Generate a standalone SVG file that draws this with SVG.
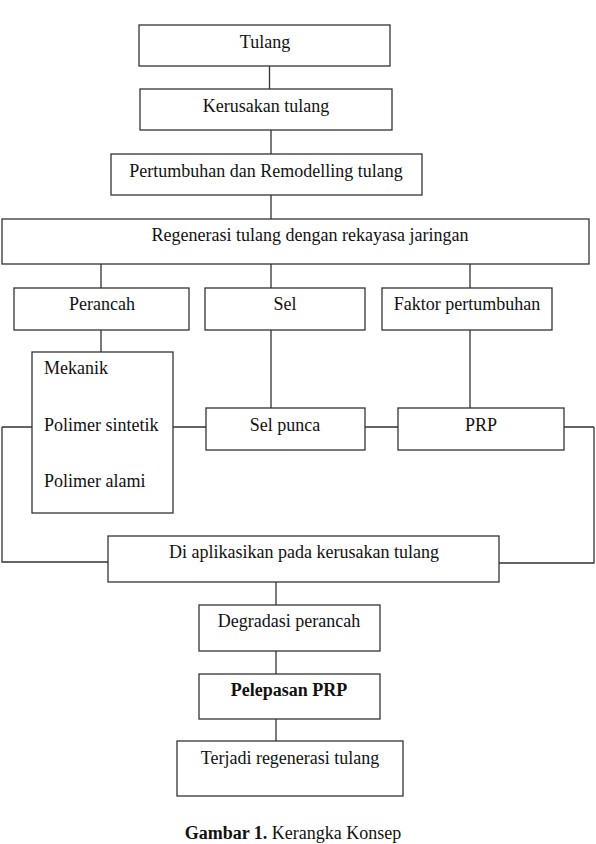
<svg xmlns="http://www.w3.org/2000/svg" width="596" height="844" viewBox="0 0 596 844">
<style>
.b{fill:#fff;stroke:#333;stroke-width:1.3}
.t{font-family:"Liberation Serif","Times New Roman",serif;font-size:18px;fill:#111;text-anchor:middle}
.l{text-anchor:start}
.c{fill:none;stroke:#333;stroke-width:1.3}
</style>
<rect width="596" height="844" fill="#fff"/>
<g id="connectors">
<path class="c" d="M269.5 66V89M271 130V154M271 195V219M101 264V288M271 264V288M470 264V288M101 330V352M271 330V408M470 330V408M2 427H32M173 427H206M365 427H398M564 427H594M2 427V562H108M594 427V563H499M276 582V605M276 651V674M276 719V741"/>
</g>
<g id="n1"><rect class="b" x="139" y="25" width="251" height="41"/><text class="t" x="265" y="48">Tulang</text></g>
<g id="n2"><rect class="b" x="140" y="89" width="252" height="41"/><text class="t" x="266" y="112">Kerusakan tulang</text></g>
<g id="n3"><rect class="b" x="111" y="154" width="311" height="41"/><text class="t" x="266" y="177">Pertumbuhan dan Remodelling tulang</text></g>
<g id="n4"><rect class="b" x="2" y="219" width="587" height="45"/><text class="t" x="310" y="241">Regenerasi tulang dengan rekayasa jaringan</text></g>
<g id="n5"><rect class="b" x="14" y="288" width="175" height="42"/><text class="t" x="102" y="310">Perancah</text></g>
<g id="n6"><rect class="b" x="205" y="288" width="160" height="42"/><text class="t" x="285" y="310">Sel</text></g>
<g id="n7"><rect class="b" x="382" y="288" width="170" height="42"/><text class="t" x="467" y="310">Faktor pertumbuhan</text></g>
<g id="n8"><rect class="b" x="32" y="352" width="141" height="161"/><text class="t l" x="44" y="374">Mekanik</text><text class="t l" x="44" y="431">Polimer sintetik</text><text class="t l" x="44" y="487">Polimer alami</text></g>
<g id="n9"><rect class="b" x="206" y="408" width="159" height="42"/><text class="t" x="285" y="431">Sel punca</text></g>
<g id="n10"><rect class="b" x="398" y="408" width="166" height="42"/><text class="t" x="481" y="431">PRP</text></g>
<g id="n11"><rect class="b" x="108" y="536" width="391" height="46"/><text class="t" x="304" y="558">Di aplikasikan pada kerusakan tulang</text></g>
<g id="n12"><rect class="b" x="199" y="605" width="181" height="46"/><text class="t" x="289" y="627">Degradasi perancah</text></g>
<g id="n13"><rect class="b" x="199" y="674" width="181" height="45"/><text class="t" x="289" y="696" font-weight="bold">Pelepasan PRP</text></g>
<g id="n14"><rect class="b" x="177" y="741" width="226" height="55"/><text class="t" x="290" y="764">Terjadi regenerasi tulang</text></g>
<text class="t" x="293" y="839"><tspan font-weight="bold">Gambar 1.</tspan> Kerangka Konsep</text>
</svg>
